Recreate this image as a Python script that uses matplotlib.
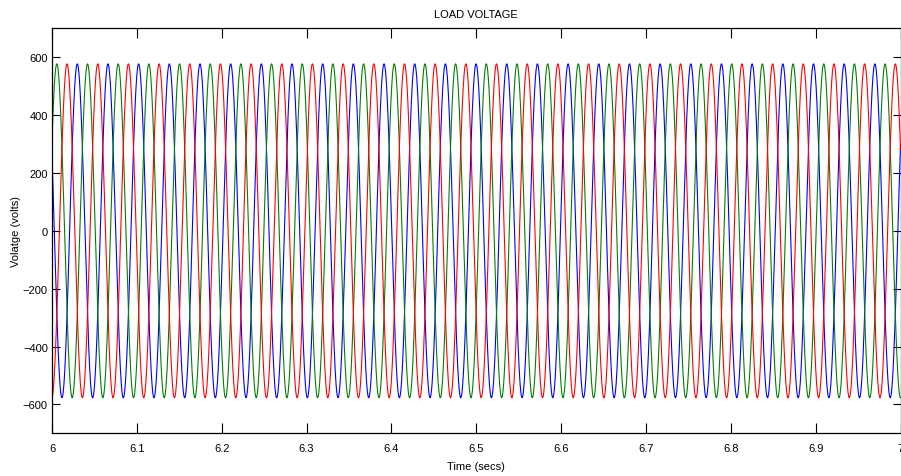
import numpy as np
import matplotlib.pyplot as plt

plt.rcParams["font.family"] = ["Liberation Sans", "DejaVu Sans"]

# three-phase load voltage, 6 s .. 7 s window
T_START, T_END = 6.0, 7.0
phase_names = ["A", "B", "C"]
phase_colors = ["#0000ff", "#008000", "#ff0000"]   # matlab order b, g, r
phase_lag_deg = [0.0, 120.0, 240.0]
amplitude = 577.0        # peak volts
freq_seen = 27.66        # cycles per second as it appears on the plot
t_peak_a = 6.0298        # first peak of phase A

xticks = [6.0, 6.1, 6.2, 6.3, 6.4, 6.5, 6.6, 6.7, 6.8, 6.9, 7.0]
yticks = [-600, -400, -200, 0, 200, 400, 600]

t = np.linspace(T_START, T_END, 20001)

fig = plt.figure(figsize=(9.01, 4.77), dpi=100)
ax = fig.add_axes([52 / 901, 1 - 434.3 / 477, 848.5 / 901, 405 / 477])

for name, col, lag in zip(phase_names, phase_colors, phase_lag_deg):
    v = amplitude * np.cos(2 * np.pi * freq_seen * (t - t_peak_a) - np.deg2rad(lag))
    ax.plot(t, v, color=col, lw=0.8, label=name)

ax.set_xlim(T_START, T_END)
ax.set_ylim(-700, 700)
ax.set_xticks(xticks)
ax.set_xticklabels([f"{x:g}" for x in xticks])
ax.set_yticks(yticks)

ax.tick_params(direction="in", top=True, right=True, labelsize=8, width=0.8)
ax.tick_params(axis="x", length=7, pad=7)
ax.tick_params(axis="y", length=5.5, pad=3)
for s in ax.spines.values():
    s.set_linewidth(0.9)

ax.set_title("LOAD VOLTAGE", fontsize=8, pad=8)
ax.set_xlabel("Time (secs)", fontsize=8)
ax.xaxis.set_label_coords(0.5, -0.068)
ax.set_ylabel("Volatge (volts)", fontsize=8)
ax.yaxis.set_label_coords(-0.036, 0.5)

fig.savefig("out.png", dpi=100)
